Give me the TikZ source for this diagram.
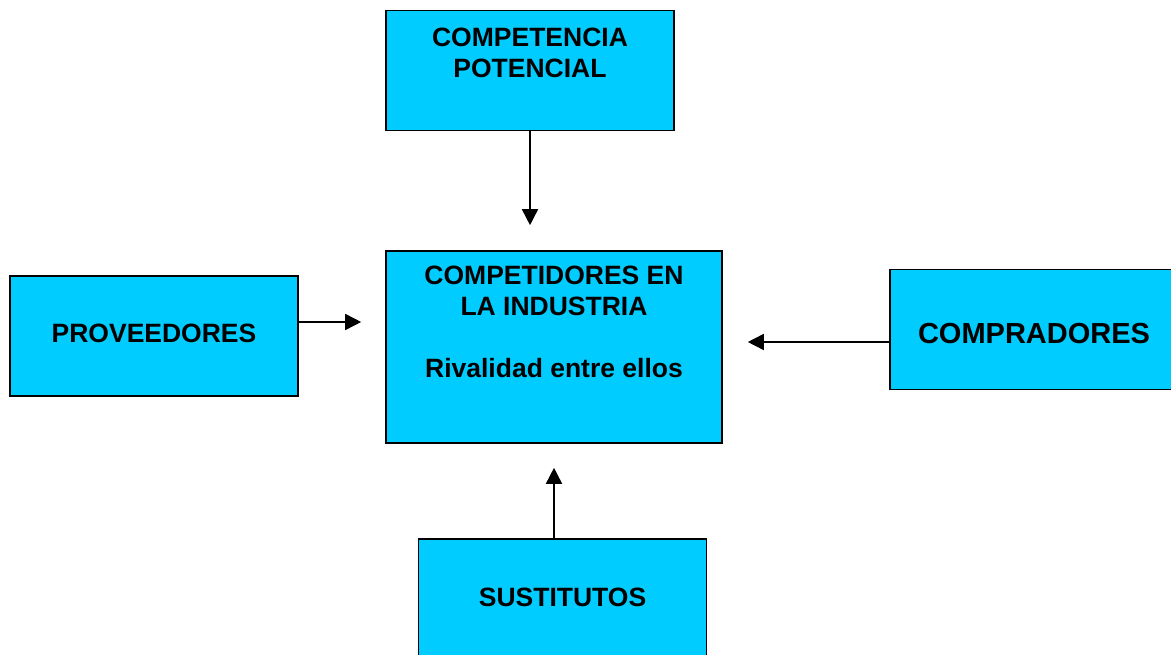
\documentclass[tikz,border=0pt]{standalone}
\usepackage{fontspec}
\setmainfont{Liberation Sans}
\usetikzlibrary{arrows.meta}
\definecolor{celeste}{RGB}{0,204,255}
\tikzset{
  caja/.style={draw=black, line width=1.6pt, fill=celeste, minimum width=288pt, minimum height=120pt,
    align=center, font=\fontsize{26.5}{31}\selectfont\bfseries, inner sep=0pt},
  flecha/.style={line width=1.6pt, -{Triangle[length=16pt,width=16pt]}}
}
\begin{document}
\begin{tikzpicture}[x=1pt,y=-1pt]
        \useasboundingbox (0,0) rectangle (1171,655); % page size
        \node[caja] (potencial) at (530,70.5) {COMPETENCIA\\POTENCIAL\\[4pt]\mbox{}}; % top box
        \node[caja, minimum width=336pt, minimum height=192pt] (industria) at (554,347)
          {COMPETIDORES EN\\LA INDUSTRIA\\[31pt]Rivalidad entre ellos\\[19pt]\mbox{}}; % centre box
        \node[caja, text depth=6pt] (proveedores) at (154,336) {PROVEEDORES}; % left box
        \node[caja, text height=28pt, font=\fontsize{29}{34}\selectfont\bfseries] (compradores) at (1034,329.5) {COMPRADORES}; % right box
        \node[caja, text depth=4pt] (sustitutos) at (562.5,599) {SUSTITUTOS}; % bottom box
        \coordinate (p1) at ([yshift=14pt]proveedores.east);
        \coordinate (c1) at ([yshift=-12.5pt]compradores.west);
        \draw[flecha, shorten >=25pt] (potencial.south) -- (potencial.south |- industria.north);
        \draw[flecha, shorten >=24pt] (p1) -- (p1 -| industria.west);
        \draw[flecha, shorten >=25pt] (c1) -- (c1 -| industria.east);
        \draw[flecha, shorten >=24pt] (industria.south |- sustitutos.north) -- (industria.south);
      \end{tikzpicture}
\end{document}
